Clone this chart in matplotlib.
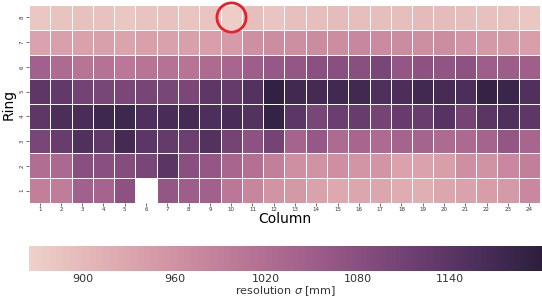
import numpy as np
import matplotlib
matplotlib.use("Agg")
import matplotlib.pyplot as plt
import seaborn as sns

columns = list(range(1, 25))
rings = [8, 7, 6, 5, 4, 3, 2, 1]

ring8 = [882, 887, 890, 888, 880, 886, 888, 885, 884, 872, 893, 885, 892, 895, 897, 893, 895, 895, 900, 897, 895, 890, 888, 880]
ring7 = [935, 938, 936, 937, 934, 938, 936, 937, 940, 945, 965, 968, 966, 970, 968, 978, 972, 970, 966, 968, 955, 950, 948, 940]
ring6 = [1045, 1025, 1010, 1012, 1005, 1010, 1012, 1010, 1025, 1035, 1050, 1060, 1065, 1078, 1080, 1082, 1100, 1065, 1075, 1068, 1075, 1050, 1052, 1048]
ring5 = [1135, 1130, 1108, 1100, 1098, 1102, 1100, 1098, 1135, 1128, 1150, 1192, 1170, 1168, 1170, 1172, 1155, 1158, 1170, 1165, 1160, 1188, 1180, 1152]
ring4 = [1135, 1158, 1163, 1176, 1174, 1153, 1163, 1166, 1156, 1163, 1148, 1188, 1138, 1100, 1120, 1122, 1105, 1125, 1122, 1145, 1105, 1140, 1155, 1135]
ring3 = [1100, 1122, 1152, 1132, 1167, 1138, 1127, 1117, 1150, 1105, 1075, 1105, 1040, 1060, 1025, 1035, 1025, 1040, 1040, 1025, 1028, 1040, 1065, 1035]
ring2 = [1020, 1030, 1080, 1080, 1085, 1100, 1140, 1080, 1065, 1035, 1018, 990, 965, 960, 965, 955, 955, 935, 935, 940, 965, 958, 975, 990]
ring1 = [990, 995, 1045, 1040, 1075, np.nan, 1065, 1050, 1045, 1005, 980, 957, 950, 935, 925, 930, 928, 920, 915, 928, 935, 942, 948, 975]

data = np.array([ring8, ring7, ring6, ring5, ring4, ring3, ring2, ring1], dtype=float)

vmin, vmax = 865, 1200
cbar_ticks = [900, 960, 1020, 1080, 1140]

fig = plt.figure(figsize=(5.42, 3.02), dpi=100)
ax = fig.add_axes([0.0535, 0.328, 0.9425, 0.655])
cax = fig.add_axes([0.0535, 0.101, 0.9465, 0.083])

cmap = sns.cubehelix_palette(as_cmap=True)
sns.heatmap(data, ax=ax, cbar_ax=cax, cmap=cmap, vmin=vmin, vmax=vmax,
            linewidths=0.6, linecolor="white",
            xticklabels=columns, yticklabels=rings,
            cbar_kws={"orientation": "horizontal", "ticks": cbar_ticks})

ax.tick_params(axis="both", labelsize=4, length=2, width=0.5, pad=1, colors="#333333")
for t in ax.get_yticklabels():
    t.set_rotation(90)
    t.set_va("center")
for t in ax.get_xticklabels():
    t.set_rotation(0)
ax.set_xlabel("Column", fontsize=10, labelpad=0)
ax.set_ylabel("Ring", fontsize=10, labelpad=3)

# highlight circle on ring 8, column 10
ax.plot(columns.index(10) + 0.5, rings.index(8) + 0.5, "o", ms=21, mfc="none",
        mec="#e8202a", mew=2.0, clip_on=False)

cax.tick_params(labelsize=8, length=0, pad=2, colors="#333333")
cax.set_xlabel("resolution $\\sigma$ [mm]", fontsize=8, labelpad=0, color="#333333")
cax.xaxis.set_label_position("bottom")
for s in cax.spines.values():
    s.set_visible(False)

fig.savefig("out.png", dpi=100)
